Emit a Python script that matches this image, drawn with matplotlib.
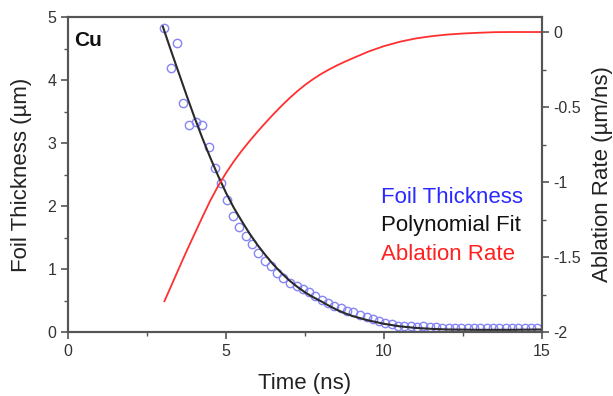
import matplotlib.pyplot as plt
from matplotlib.ticker import MultipleLocator

plt.rcParams['font.family'] = ['Liberation Sans', 'DejaVu Sans']

# measured foil thickness (um) vs time (ns)
time_ns = [3.05, 3.25, 3.44, 3.65, 3.84, 4.05, 4.24, 4.45, 4.64, 4.85,
           5.02, 5.21, 5.42, 5.62, 5.81, 6.02, 6.23, 6.41, 6.62, 6.81,
           7.03, 7.24, 7.43, 7.64, 7.82, 8.03, 8.24, 8.43, 8.64, 8.84,
           9.03, 9.24, 9.45, 9.64, 9.85, 10.03, 10.24, 10.45, 10.65, 10.85,
           11.05, 11.25, 11.45, 11.65, 11.85, 12.05, 12.25, 12.45, 12.65, 12.85,
           13.05, 13.25, 13.45, 13.65, 13.85, 14.05, 14.25, 14.45, 14.65, 14.85]
thickness = [4.83, 4.19, 4.58, 3.63, 3.28, 3.33, 3.28, 2.94, 2.61, 2.37,
             2.10, 1.84, 1.66, 1.52, 1.39, 1.25, 1.12, 1.04, 0.93, 0.85,
             0.78, 0.73, 0.69, 0.64, 0.57, 0.51, 0.46, 0.42, 0.38, 0.34,
             0.31, 0.27, 0.24, 0.21, 0.18, 0.15, 0.12, 0.10, 0.09, 0.09,
             0.08, 0.09, 0.08, 0.08, 0.07, 0.07, 0.07, 0.07, 0.06, 0.06,
             0.06, 0.06, 0.06, 0.06, 0.06, 0.07, 0.07, 0.06, 0.07, 0.06]

# polynomial fit curve
fit_t = [3.0, 3.25, 3.5, 3.75, 4.0, 4.25, 4.5, 4.75, 5.0, 5.25, 5.5, 5.75,
         6.0, 6.25, 6.5, 6.75, 7.0, 7.25, 7.5, 7.75, 8.0, 8.25, 8.5, 8.75,
         9.0, 9.5, 10.0, 10.5, 11.0, 11.5, 12.0, 13.0, 14.0, 15.0]
fit_th = [4.85, 4.48, 4.12, 3.76, 3.41, 3.08, 2.77, 2.48, 2.21, 1.97, 1.76, 1.56,
          1.38, 1.22, 1.07, 0.94, 0.82, 0.72, 0.63, 0.555, 0.49, 0.42, 0.355, 0.30,
          0.255, 0.185, 0.13, 0.09, 0.065, 0.05, 0.04, 0.035, 0.035, 0.04]

# ablation rate (um/ns), right axis
rate_t = [3.05, 3.25, 3.5, 3.75, 4.0, 4.25, 4.5, 4.75, 5.0, 5.25, 5.5, 5.75,
          6.0, 6.25, 6.5, 6.75, 7.0, 7.25, 7.5, 7.75, 8.0, 8.25, 8.5, 8.75,
          9.0, 9.5, 10.0, 10.5, 11.0, 11.5, 12.0, 12.5, 13.0, 13.5, 14.0, 15.0]
rate = [-1.795, -1.70, -1.58, -1.462, -1.348, -1.235, -1.125, -1.027, -0.940, -0.862, -0.791, -0.726,
        -0.664, -0.605, -0.548, -0.494, -0.443, -0.396, -0.353, -0.315, -0.281, -0.251, -0.224, -0.199,
        -0.176, -0.131, -0.094, -0.065, -0.043, -0.028, -0.017, -0.010, -0.005, -0.001, 0.0, 0.0]

spine_col = '#555555'

fig = plt.figure(figsize=(6.13, 3.96), dpi=100)
ax = fig.add_axes([0.111, 0.1616, 0.773, 0.7954])
ax2 = ax.twinx()

ax.plot(time_ns, thickness, 'o', mfc='none', mec='#8585f5', ms=6, mew=1.0, zorder=2)
ax.plot(fit_t, fit_th, '-', color='#2a2a2a', lw=1.5, zorder=3)
ax2.plot(rate_t, rate, '-', color='#ff3030', lw=1.3)

ax.set_xlim(0, 15)
ax.set_ylim(0, 5)
ax2.set_ylim(-2, 0.1)

ax.xaxis.set_major_locator(MultipleLocator(5))
ax.xaxis.set_minor_locator(MultipleLocator(2.5))
ax.yaxis.set_major_locator(MultipleLocator(1))
ax.yaxis.set_minor_locator(MultipleLocator(0.5))
ax2.yaxis.set_major_locator(MultipleLocator(0.5))
ax2.yaxis.set_minor_locator(MultipleLocator(0.25))
ax2.set_yticks([0, -0.5, -1, -1.5, -2])
ax2.set_yticklabels(['0', '-0.5', '-1', '-1.5', '-2'])

for a in (ax, ax2):
    for s in a.spines.values():
        s.set_color(spine_col)
        s.set_linewidth(1.5)
    a.tick_params(which='major', length=5, width=1.2, color=spine_col,
                  labelsize=11.5, labelcolor='#333333', direction='out')
    a.tick_params(which='minor', length=3, width=1.0, color=spine_col, direction='out')

ax.set_xlabel('Time (ns)', fontsize=16, color='#222222', labelpad=10)
ax.set_ylabel('Foil Thickness (µm)', fontsize=16, color='#222222', labelpad=11)
ax2.set_ylabel('Ablation Rate (µm/ns)', fontsize=16, color='#222222', labelpad=8)

ax.text(0.012, 0.955, 'Cu', transform=ax.transAxes, fontsize=15, fontweight='bold',
        va='top', ha='left', color='#111111')

ax.text(0.66, 0.41, 'Foil Thickness', transform=ax.transAxes, fontsize=16, color='#2a2aff')
ax.text(0.66, 0.32, 'Polynomial Fit', transform=ax.transAxes, fontsize=16, color='#111111')
ax.text(0.66, 0.23, 'Ablation Rate', transform=ax.transAxes, fontsize=16, color='#ff2020')

fig.savefig('out.png', dpi=100)
